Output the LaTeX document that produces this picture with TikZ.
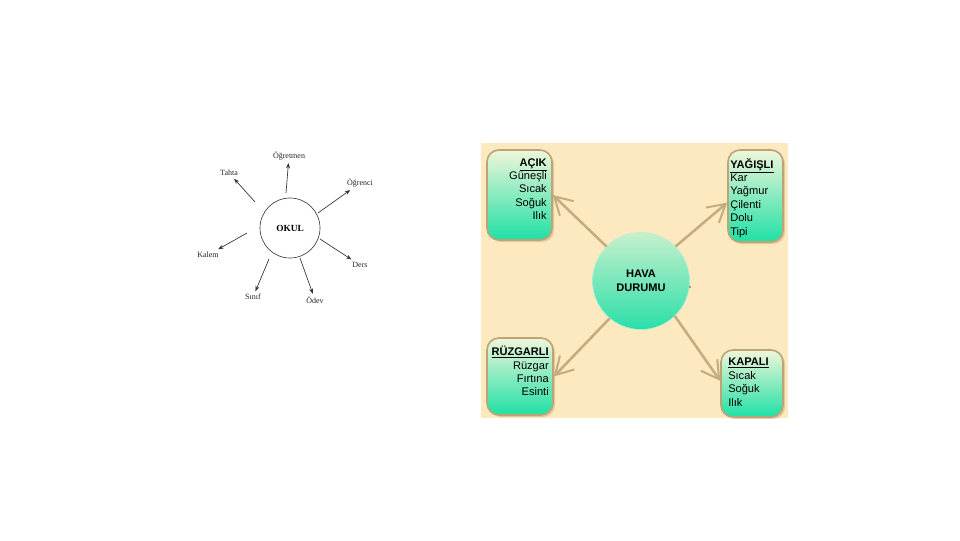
\documentclass[tikz,border=0pt]{standalone}
\usepackage{fontspec}
\setmainfont{Liberation Sans}
\newfontfamily\timesf{Liberation Serif}
\usetikzlibrary{arrows.meta,shadows}
\definecolor{bgbeige}{HTML}{FCE9C0}
\definecolor{boxborder}{HTML}{BDA474}
\definecolor{boxtop}{HTML}{F0F6DA}
\definecolor{boxbot}{HTML}{1FE0A5}
\definecolor{circtop}{HTML}{C6F0CC}
\definecolor{circbot}{HTML}{2ADFA8}
\definecolor{arrowtan}{HTML}{C2AC80}
\tikzset{
  okulc/.style={circle, draw=black!75, line width=0.5pt, minimum size=45pt, inner sep=0pt,
    font=\timesf\bfseries\fontsize{7}{8}\selectfont},
  lbl/.style={font=\timesf\fontsize{6}{7}\selectfont, inner sep=2pt, text=black!85},
  sarr/.style={draw=black!80, line width=0.5pt, -{Stealth[length=4pt,width=3pt]}},
  wbox/.style={rounded corners=9pt, draw=boxborder, line width=1.2pt,
    top color=boxtop, bottom color=boxbot,
    drop shadow={shadow xshift=1.5pt, shadow yshift=-1.5pt, fill=boxborder, opacity=0.45}},
  btxt/.style={inner sep=0pt, font=\fontsize{8.3}{10.05}\selectfont},
  havac/.style={circle, minimum size=72.75pt, inner sep=0pt, draw=circbot!40, line width=0.4pt,
    top color=circtop, bottom color=circbot, align=center,
    font=\bfseries\fontsize{8.3}{10.5}\selectfont},
  warr/.style={draw=arrowtan, line width=1.9pt,
    -{Straight Barb[length=13pt,width=15pt,line width=1.5pt]}}
}
\begin{document}
\begin{tikzpicture}[x=0.75pt,y=-0.75pt]
\useasboundingbox (0,0) rectangle (960,540);
\fill[white] (0,0) rectangle (960,540);

% ---------- left diagram ----------
\node[okulc] (okul) at (290,228) {OKUL};
\node[lbl] (ogretmen) at (289,156) {Öğretmen};
\node[lbl] (tahta) at (229,173) {Tahta};
\node[lbl] (ogrenci) at (360,183) {Öğrenci};
\node[lbl] (kalem) at (208,255) {Kalem};
\node[lbl] (ders) at (360,265) {Ders};
\node[lbl] (sinif) at (253,297) {Sınıf};
\node[lbl] (odev) at (315,300) {Ödev};

\coordinate (s1) at (286,193);
\coordinate (s2) at (255,202);
\coordinate (s3) at (318,213);
\coordinate (s4) at (247,233);
\coordinate (s5) at (320,239);
\coordinate (s6) at (269,259);
\coordinate (s7) at (300,258);
\draw[sarr] (s1) -- (ogretmen);
\draw[sarr] (s2) -- (tahta);
\draw[sarr] (s3) -- (ogrenci);
\draw[sarr] (s4) -- (kalem);
\draw[sarr] (s5) -- (ders);
\draw[sarr] (s6) -- (sinif);
\draw[sarr] (s7) -- (odev);

% ---------- right diagram ----------
\fill[bgbeige] (481,143) rectangle (788,418);

\node[wbox, minimum width=48.75pt, minimum height=67.5pt] (acik) at (519.5,195) {};
\node[wbox, minimum width=41.25pt, minimum height=69pt] (yagisli) at (755.5,196) {};
\node[wbox, minimum width=49.5pt, minimum height=57.75pt] (ruzgarli) at (520,376.5) {};
\node[wbox, minimum width=46.5pt, minimum height=50.25pt] (kapali) at (752,383.5) {};

\node[btxt, anchor=north east, align=right] (acikt) at (547,158)
  {\underline{\textbf{AÇIK}}\\Güneşli\\Sıcak\\Soğuk\\Ilık};
\node[btxt, anchor=north west, align=left] (yagislit) at (730,158)
  {\underline{\textbf{YAĞIŞLI}}\\Kar\\Yağmur\\Çilenti\\Dolu\\Tipi};
\node[btxt, anchor=north east, align=right] (ruzgarlit) at (549,346)
  {\underline{\textbf{RÜZGARLI}}\\Rüzgar\\Fırtına\\Esinti};
\node[btxt, anchor=north west, align=left] (kapalit) at (728,358)
  {\underline{\textbf{KAPALI}}\\Sıcak\\Soğuk\\Ilık};

\node[havac] (hava) at (641,281) {HAVA\\DURUMU};
\fill[black!70] (690,287) circle (0.8);

\draw[warr] (hava.135) -- (acik.east);
\draw[warr] (hava.45) -- ([yshift=-5pt]yagisli.west);
\draw[warr] (hava.230) -- (ruzgarli.east);
\draw[warr] (hava.314) -- ([yshift=2pt]kapali.west);
\end{tikzpicture}
\end{document}
